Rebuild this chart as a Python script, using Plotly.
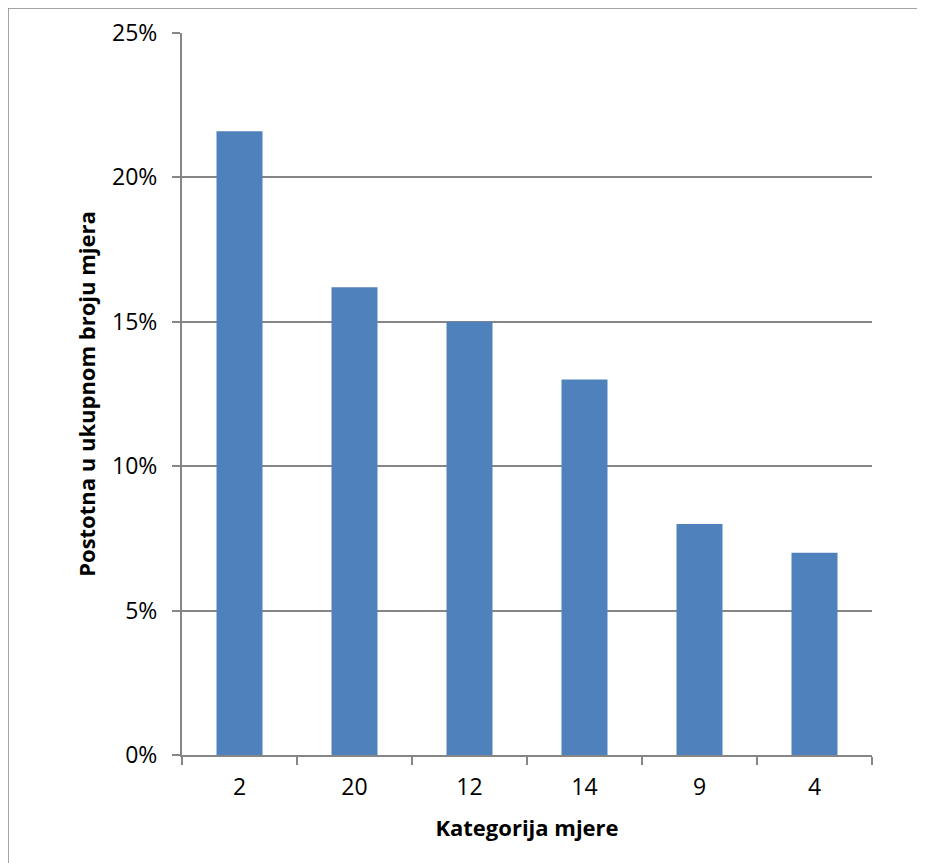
import plotly.graph_objects as go

categories = ["2", "20", "12", "14", "9", "4"]
values = [0.216, 0.162, 0.150, 0.130, 0.080, 0.070]
y_ticks = [0, 0.05, 0.10, 0.15, 0.20, 0.25]
y_tick_labels = ["0%", "5%", "10%", "15%", "20%", "25%"]
x_title = "Kategorija mjere"
y_title = "Postotna u ukupnom broju mjera"

# the page body adds an 8px offset; the figure is placed to compensate
W, H = 917, 855
L, T = 174, 25
pw, ph = 690, 722
R, B = W - L - pw, H - T - ph

fig = go.Figure()
fig.add_trace(go.Bar(x=categories, y=values, marker=dict(color="#4F81BD", line=dict(width=0)),
                     width=0.4))

axis_color = "#868686"
font_family = "Open Sans, Noto Sans, sans-serif"
fig.update_layout(
    width=W, height=H,
    margin=dict(l=L, r=R, t=T, b=B, autoexpand=False),
    paper_bgcolor="white", plot_bgcolor="white",
    font=dict(family=font_family, size=22, color="black"),
    showlegend=False,
    xaxis=dict(
        type="category", tickson="boundaries", ticks="outside", ticklen=8,
        tickcolor=axis_color, tickwidth=2,
        showline=True, linecolor=axis_color, linewidth=2,
        showgrid=False, automargin=False,
        tickfont=dict(size=23), ticklabelstandoff=10,
        title=dict(text="<b>" + x_title + "</b>", font=dict(size=22), standoff=20),
    ),
    yaxis=dict(
        range=[0, 0.25], tickvals=y_ticks, ticktext=y_tick_labels,
        ticks="outside", ticklen=8, tickcolor=axis_color, tickwidth=2,
        showline=True, linecolor=axis_color, linewidth=2,
        showgrid=True, gridcolor=axis_color, gridwidth=1.5,
        zeroline=False, automargin=False,
        tickfont=dict(size=23), ticklabelstandoff=10,
        title=dict(text="<b>" + y_title + "</b>", font=dict(size=22), standoff=10),
    ),
    shapes=[
        dict(type="rect", xref="paper", yref="paper",
             x0=-L / pw, x1=(W + 20 - L) / pw,
             y0=-(B + 20) / ph, y1=1 + T / ph,
             line=dict(color="#868686", width=1.5), fillcolor="rgba(0,0,0,0)", layer="below"),
    ],
)

fig.write_html("out.html")
